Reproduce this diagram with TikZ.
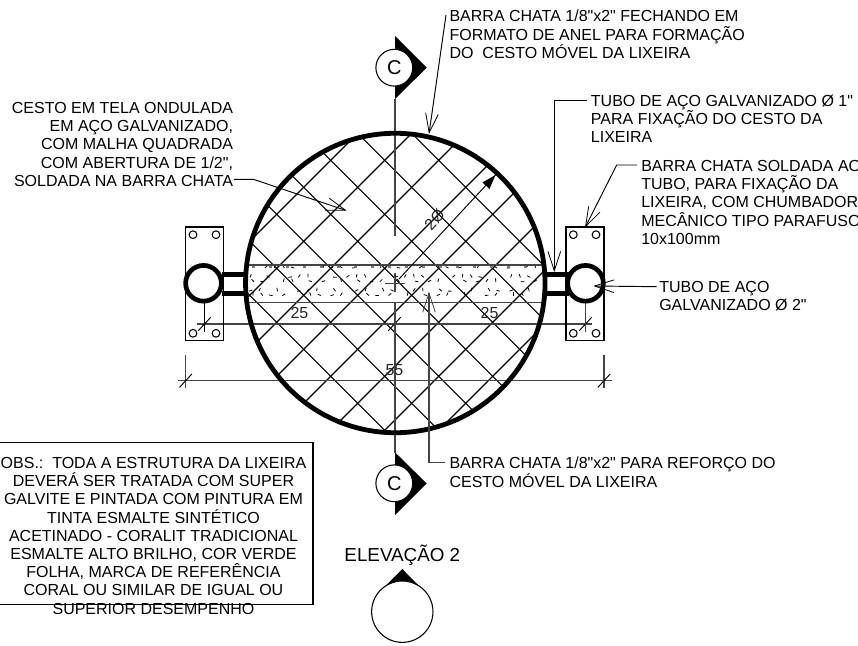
\documentclass[tikz,border=0pt]{standalone}
\usepackage{fontspec}
\setmainfont[Ligatures=TeXOff]{Liberation Sans}
\usetikzlibrary{arrows.meta}
\definecolor{dimgray}{HTML}{444444}
\tikzset{
  meshline/.style={black,line width=0.85pt},
  dimline/.style={dimgray,line width=0.95pt},
  thinline/.style={black,line width=0.7pt},
  heavy/.style={black,line width=3.5pt},
  leader/.style={black,line width=0.7pt,-{Straight Barb[length=14.5pt,width=9.5pt,line width=0.6pt]}},
  txt/.style={inner sep=0pt,font=\fontsize{12pt}{13.65pt}\selectfont,text=black},
  dimtext/.style={inner sep=0pt,font=\fontsize{12pt}{13.65pt}\selectfont,text=black!85},
  secmark/.style={circle,draw=black,fill=white,line width=0.8pt,inner sep=0pt,minimum size=27.6pt,font=\fontsize{15pt}{17pt}\selectfont},
  holemark/.style={black,line width=0.8pt,fill=white},
}
\begin{document}
\begin{tikzpicture}[x=0.75pt,y=-0.75pt]
\useasboundingbox (0,0) rectangle (858,646);
% mesh, band
\begin{scope}
  \clip (395.3,283) circle[radius=112.3pt];
  \foreach \k in {-1,...,6} {
    \pgfmathsetmacro\c{545+54*\k}
    \draw[meshline] ({\c-100},100) -- ({\c-480},480);
  }
  \foreach \k in {-2,...,5} {
    \pgfmathsetmacro\d{8.4+54*\k}
    \draw[meshline] ({\d+100},100) -- ({\d+480},480);
  }
  \foreach \col in {0,...,24} \foreach \row in {0,...,4} {
    \pgfmathtruncatemacro\skipit{mod(\col*3+\row*7,5)}
    \ifnum\skipit=0\relax\else
      \pgfmathsetmacro\xa{250+11.8*\col+mod(\col*7+\row*13,9)-4}
      \pgfmathsetmacro\ya{270+6.4*\row+mod(\col*5+\row*3,5)-2}
      \pgfmathsetmacro\an{mod(\col*41+\row*67,180)}
      \draw[black,line width=0.6pt] (\xa,\ya) -- ++(\an:2.6pt);
    \fi
  }
  \foreach \x in {252,269,...,540}
    \fill[dimgray!70] (\x,265.6) rectangle ++(3,2);
  \draw[dimline,line width=1.2pt] (240,265) -- (550,265);
  \draw[dimline] (240,302.3) -- (550,302.3);
\end{scope}
% dimension lines
\coordinate (d1l) at (196.7,324);
\coordinate (d1r) at (592,324);
\draw[dimline] (d1l) -- (d1r);
\coordinate (d2l) at (177.7,380.7);
\coordinate (d2r) at (611.7,380.7);
\draw[dimline] (d2l) -- (d2r);
\draw[dimline] (185.7,355) -- (185.7,388.3);
\draw[dimline] (604,355) -- (604,388.3);
\foreach \x/\y in {185.7/380.7,604/380.7,204.5/324,585.5/324,394.5/324}
  \draw[thinline] (\x-6.2,\y+6.7) -- (\x+6.2,\y-6.7);
% centre line
\coordinate (cltop) at (395,99);
\coordinate (clbot) at (395,453);
\draw[dimline,line width=1.1pt] (cltop) -- (395,235.7);
\draw[dimline,line width=1.1pt] (395,273) -- (395,291.7);
\draw[dimline,line width=1.1pt] (395,301.7) -- (clbot);
\draw[dimline] (385,283.3) -- (405,283.3);
% radius dimension
\coordinate (rc) at (399,279);
\coordinate (rt) at (495.5,175);
\draw[thinline] (rc) -- (rt);
\fill[black] (495.5,175) -- (489.5,189) -- (482.5,182.5) -- cycle;
\node[dimtext,rotate=47] (rad) at (434.5,219.5) {2Ø};
% plates
\foreach \xl/\xr/\ha/\hb in {185.7/223.3/193/216,566/604/573.3/596} {
  \draw[black,line width=0.8pt] (\xl,227) rectangle (\xr,340.3);
  \foreach \hx in {\ha,\hb} \foreach \hy in {234.7,333.3}
    \draw[holemark] (\hx,\hy) circle[radius=2.9pt];
}
\draw[thinline] (204.5,300) -- (204.5,331.7);
\draw[dimline,line width=1.1pt] (585.5,300) -- (585.5,331.7);
% connecting bars
\draw[heavy] (222,274.3) -- (247,274.3);
\draw[heavy] (222,293.3) -- (247,293.3);
\draw[heavy] (544,274.3) -- (569,274.3);
\draw[heavy] (544,293.3) -- (569,293.3);
% tubes
\draw[heavy,fill=white] (203.5,283.3) circle[radius=13.4pt];
\draw[heavy,fill=white] (585.5,283.3) circle[radius=13.4pt];
% ring
\draw[black,line width=3.6pt] (395.3,283) circle[radius=112.3pt];
% section marks
\fill[black] (395,36) -- (426.7,67.7) -- (395,99) -- cycle;
\node[secmark] (ctop) at (394.3,67.7) {C};
\fill[black] (395,452.3) -- (426.7,483.5) -- (395,515) -- cycle;
\node[secmark] (cbot) at (394.3,483.3) {C};
\fill[black] (402.3,569) -- (423,590) -- (381.5,590) -- cycle;
\node[circle,draw=black,fill=white,line width=0.8pt,inner sep=0pt,minimum size=46pt] (elev) at (402.3,611.7) {};
\node[inner sep=0pt,font=\fontsize{14.1pt}{16pt}\selectfont] (elevt) at (402.3,555.5) {ELEVAÇÃO 2};
% labels
\node[txt,anchor=north west,align=left] (t1) at (449.3,10) {BARRA CHATA 1/8"x2" FECHANDO EM\\FORMATO DE ANEL PARA FORMAÇÃO\\DO\ \ CESTO MÓVEL DA LIXEIRA};
\node[txt,anchor=north east,align=right] (t2) at (233.3,102) {CESTO EM TELA ONDULADA\\EM AÇO GALVANIZADO,\\COM MALHA QUADRADA\\COM ABERTURA DE 1/2",\\SOLDADA NA BARRA CHATA};
\node[txt,anchor=north west,align=left] (t3) at (590.7,94.5) {TUBO DE AÇO GALVANIZADO Ø 1"\\PARA FIXAÇÃO DO CESTO DA\\LIXEIRA};
\node[txt,anchor=north west,align=left] (t4) at (641,160) {BARRA CHATA SOLDADA AO\\TUBO, PARA FIXAÇÃO DA\\LIXEIRA, COM CHUMBADOR\\MECÂNICO TIPO PARAFUSO\\10x100mm};
\node[txt,anchor=north west,align=left] (t5) at (659,281) {TUBO DE AÇO\\GALVANIZADO Ø 2"};
\node[txt,anchor=north west,align=left] (t6) at (449.3,457) {BARRA CHATA 1/8"x2" PARA REFORÇO DO\\CESTO MÓVEL DA LIXEIRA};
\node[dimtext] (n25a) at (299.5,313) {25};
\node[dimtext] (n25b) at (489.5,313) {25};
\node[dimtext] (n55) at (394.5,370) {55};
% note box
\draw[black,line width=0.9pt] (-1,442.3) -- (313,442.3) -- (313,604.5) -- (-1,604.5);
\node[txt,anchor=north,align=center] (obs) at (153.5,457) {OBS.:\ \ TODA A ESTRUTURA DA LIXEIRA\\DEVERÁ SER TRATADA COM SUPER\\GALVITE E PINTADA COM PINTURA EM\\TINTA ESMALTE SINTÉTICO\\ACETINADO - CORALIT TRADICIONAL\\ESMALTE ALTO BRILHO, COR VERDE\\FOLHA, MARCA DE REFERÊNCIA\\CORAL OU SIMILAR DE IGUAL OU\\SUPERIOR DESEMPENHO};
% leaders
\coordinate (l1s) at (446,15);
\coordinate (l1t) at (429,134);
\draw[leader] (l1s) -- (l1t);
\coordinate (l2s) at (234,179.3);
\coordinate (l2e) at (253.3,179.3);
\coordinate (l2t) at (346.7,210.7);
\draw[leader] (l2s) -- (l2e) -- (l2t);
\coordinate (l3s) at (586.7,100);
\coordinate (l3e) at (554.3,100);
\coordinate (l3t) at (554.3,272);
\draw[leader] (l3s) -- (l3e) -- (l3t);
\coordinate (l4s) at (637,165);
\coordinate (l4e) at (616.7,165);
\coordinate (l4t) at (585,227.7);
\draw[leader] (l4s) -- (l4e) -- (l4t);
\coordinate (l5s) at (656.7,286.7);
\coordinate (l5t) at (593.3,286);
\draw[leader] (l5s) -- (l5t);
\coordinate (l6s) at (445,462.7);
\coordinate (l6e) at (429,462.7);
\coordinate (l6t) at (429,291.7);
\draw[leader,dimgray,line width=0.9pt] (l6s) -- (l6e) -- (l6t);
\end{tikzpicture}
\end{document}
